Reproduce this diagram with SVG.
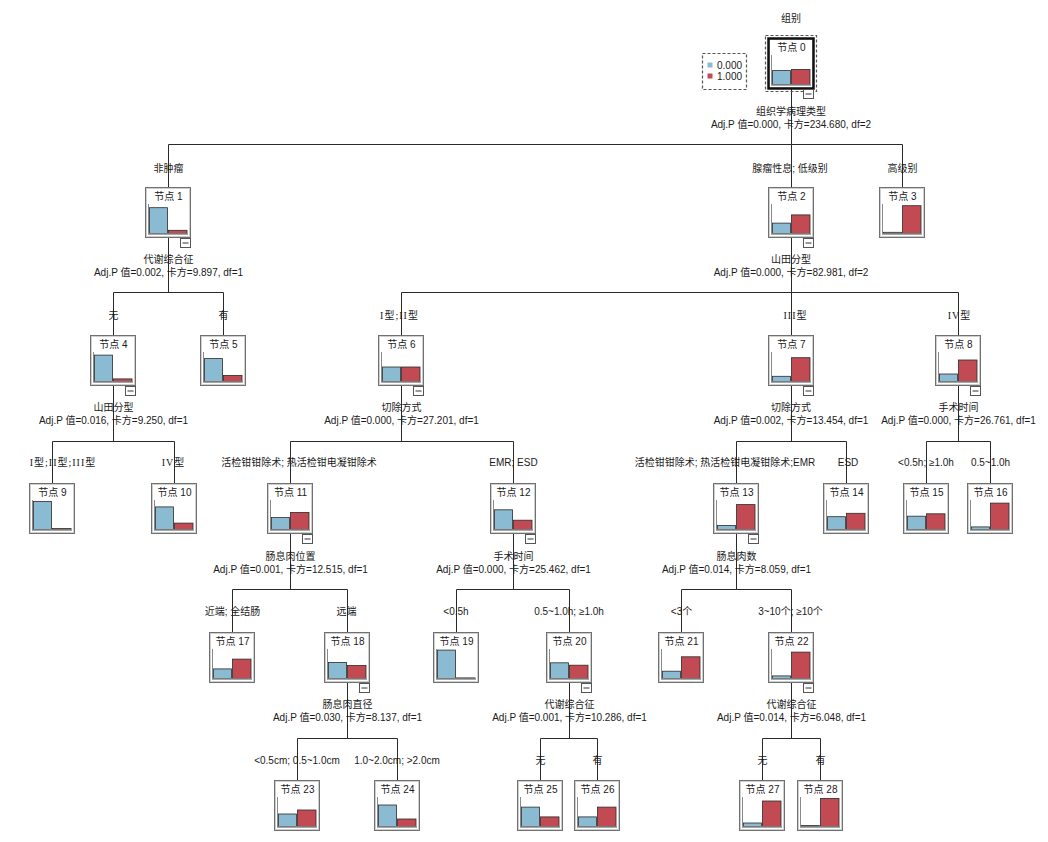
<svg xmlns="http://www.w3.org/2000/svg" width="1048" height="842" viewBox="0 0 1048 842">
<style>
.t{font-family:"Liberation Sans","Noto Sans CJK SC",sans-serif;font-size:10px;fill:#1a1a1a;text-anchor:middle}
.r{font-family:"Liberation Serif","Noto Sans CJK SC",serif;letter-spacing:1px}
.box{fill:#fff;stroke:#707070;stroke-width:1}
.in{fill:none;stroke:#cfcfcf;stroke-width:1}
.ax{stroke:#8a8a8a;stroke-width:1}
.bl{stroke:#8a8a8a;stroke-width:1.5}
.b{fill:#8BBAD3;stroke:#2b2b2b;stroke-width:0.8}
.rd{fill:#C24B53;stroke:#2b2b2b;stroke-width:0.8}
.col{fill:#fff;stroke:#555;stroke-width:1}
.cn{fill:none;stroke:#2a2a2a;stroke-width:1}
</style>
<defs>
<g id="frame">
<rect class="box" x="0.5" y="0.5" width="45" height="50"/>
<rect class="in" x="1.5" y="1.5" width="43" height="48"/>
<line class="ax" x1="3.5" y1="17" x2="3.5" y2="47"/>
</g>
<g id="base"><line class="bl" x1="3" y1="47" x2="43" y2="47"/></g>
<g id="col"><rect class="col" x="35.5" y="51.5" width="10" height="9"/><line stroke="#333" x1="37.5" y1="56" x2="43.5" y2="56"/></g>
</defs>
<rect width="1048" height="842" fill="#fff"/>

<text class="t" x="791" y="21.5">组别</text>

<g id="legend">
<rect x="702.5" y="53.5" width="44" height="36" fill="#fff" stroke="#555" stroke-width="1.2" stroke-dasharray="3,2"/>
<rect x="707.5" y="62.5" width="5" height="5" fill="#8BBAD3"/>
<text class="t" x="717" y="69" style="text-anchor:start">0.000</text>
<rect x="707.5" y="73.5" width="5" height="5" fill="#C24B53"/>
<text class="t" x="717" y="80" style="text-anchor:start">1.000</text>
</g>

<g id="connectors" class="cn">
<path d="M791.5 89V144.5M168.5 144.5H902.5M168.5 144.5V187M791.5 144.5V187M902.5 144.5V187"/>
<path d="M168.5 238V292.5M113.5 292.5H223.5M113.5 292.5V335M223.5 292.5V335"/>
<path d="M791.5 238V292.5M401.5 292.5H958.5M401.5 292.5V335M791.5 292.5V335M958.5 292.5V335"/>
<path d="M113.5 386V441.5M52.5 441.5H174.5M52.5 441.5V483M174.5 441.5V483"/>
<path d="M401.5 386V441.5M290.5 441.5H513.5M290.5 441.5V483M513.5 441.5V483"/>
<path d="M791.5 386V441.5M736.5 441.5H846.5M736.5 441.5V483M846.5 441.5V483"/>
<path d="M958.5 386V441.5M926.5 441.5H990.5M926.5 441.5V483M990.5 441.5V483"/>
<path d="M290.5 534V589.5M232.5 589.5H347.5M232.5 589.5V632M347.5 589.5V632"/>
<path d="M513.5 534V589.5M456.5 589.5H569.5M456.5 589.5V632M569.5 589.5V632"/>
<path d="M736.5 534V589.5M681.5 589.5H791.5M681.5 589.5V632M791.5 589.5V632"/>
<path d="M347.5 683V738.5M297.5 738.5H397.5M297.5 738.5V780M397.5 738.5V780"/>
<path d="M569.5 683V738.5M540.5 738.5H597.5M540.5 738.5V780M597.5 738.5V780"/>
<path d="M791.5 683V738.5M762.5 738.5H820.5M762.5 738.5V780M820.5 738.5V780"/>
</g>

<g id="labels">
<text class="t" x="791" y="114.5">组织学病理类型</text>
<text class="t" x="791" y="127.5">Adj.P 值=0.000, 卡方=234.680, df=2</text>
<text class="t" x="168.5" y="171.5">非肿瘤</text>
<text class="t" x="790" y="171.5">腺瘤性息; 低级别</text>
<text class="t" x="902.5" y="171.5">高级别</text>

<text class="t" x="168.5" y="262.5">代谢综合征</text>
<text class="t" x="168.5" y="275.5">Adj.P 值=0.002, 卡方=9.897, df=1</text>
<text class="t" x="791" y="262.5">山田分型</text>
<text class="t" x="791" y="275.5">Adj.P 值=0.000, 卡方=82.981, df=2</text>
<text class="t" x="113.5" y="318.5">无</text>
<text class="t" x="223.5" y="318.5">有</text>
<text class="t r" x="399.5" y="318.5">I型;II型</text>
<text class="t r" x="795.5" y="318.5">III型</text>
<text class="t r" x="959.5" y="318.5">IV型</text>

<text class="t" x="113.5" y="410.5">山田分型</text>
<text class="t" x="113.5" y="424">Adj.P 值=0.016, 卡方=9.250, df=1</text>
<text class="t" x="401.5" y="410.5">切除方式</text>
<text class="t" x="401.5" y="424">Adj.P 值=0.000, 卡方=27.201, df=1</text>
<text class="t" x="791" y="410.5">切除方式</text>
<text class="t" x="791" y="424">Adj.P 值=0.002, 卡方=13.454, df=1</text>
<text class="t" x="958.5" y="410.5">手术时间</text>
<text class="t" x="958.5" y="424">Adj.P 值=0.000, 卡方=26.761, df=1</text>
<text class="t r" x="63" y="466">I型;II型;III型</text>
<text class="t r" x="173.5" y="466">IV型</text>
<text class="t" x="299" y="466">活检钳钳除术; 热活检钳电凝钳除术</text>
<text class="t" x="513.5" y="466">EMR; ESD</text>
<text class="t" x="725" y="466">活检钳钳除术; 热活检钳电凝钳除术;EMR</text>
<text class="t" x="848" y="466">ESD</text>
<text class="t" x="926" y="466">&lt;0.5h; ≥1.0h</text>
<text class="t" x="990.5" y="466">0.5~1.0h</text>

<text class="t" x="290.5" y="559.5">肠息肉位置</text>
<text class="t" x="290.5" y="572.5">Adj.P 值=0.001, 卡方=12.515, df=1</text>
<text class="t" x="513.5" y="559.5">手术时间</text>
<text class="t" x="513.5" y="572.5">Adj.P 值=0.000, 卡方=25.462, df=1</text>
<text class="t" x="736.5" y="559.5">肠息肉数</text>
<text class="t" x="736.5" y="572.5">Adj.P 值=0.014, 卡方=8.059, df=1</text>
<text class="t" x="232.5" y="615">近端; 全结肠</text>
<text class="t" x="346.5" y="615">远端</text>
<text class="t" x="456" y="615">&lt;0.5h</text>
<text class="t" x="569" y="615">0.5~1.0h; ≥1.0h</text>
<text class="t" x="681.5" y="615">&lt;3个</text>
<text class="t" x="790.5" y="615">3~10个; ≥10个</text>

<text class="t" x="347.5" y="707.5">肠息肉直径</text>
<text class="t" x="347.5" y="720.5">Adj.P 值=0.030, 卡方=8.137, df=1</text>
<text class="t" x="569.5" y="707.5">代谢综合征</text>
<text class="t" x="569.5" y="720.5">Adj.P 值=0.001, 卡方=10.286, df=1</text>
<text class="t" x="791.5" y="707.5">代谢综合征</text>
<text class="t" x="791.5" y="720.5">Adj.P 值=0.014, 卡方=6.048, df=1</text>
<text class="t" x="297" y="763.5">&lt;0.5cm; 0.5~1.0cm</text>
<text class="t" x="397" y="763.5">1.0~2.0cm; &gt;2.0cm</text>
<text class="t" x="540.5" y="763.5">无</text>
<text class="t" x="597.5" y="763.5">有</text>
<text class="t" x="762.5" y="763.5">无</text>
<text class="t" x="820.5" y="763.5">有</text>
</g>

<g id="node0" transform="translate(768,38)">
<rect x="-2.5" y="-2.5" width="51" height="56" fill="none" stroke="#555" stroke-width="1.2" stroke-dasharray="3,2"/>
<use href="#frame"/>
<rect x="0.5" y="0.5" width="45" height="50" fill="none" stroke="#111" stroke-width="2.5"/>
<text class="t" x="23.5" y="12.5">节点 0</text>
<rect class="b" x="4.5" y="32.6" width="18" height="13.9"/><rect class="rd" x="23.5" y="31.4" width="18.5" height="15.1"/>
<use href="#base"/><use href="#col"/>
</g>
<g id="node1" transform="translate(145,187)"><use href="#frame"/><text class="t" x="23.5" y="12.5">节点 1</text>
<rect class="b" x="4.5" y="20.7" width="18" height="25.8"/><rect class="rd" x="23.5" y="43.3" width="18.5" height="3.2"/><use href="#base"/><use href="#col"/></g>
<g id="node2" transform="translate(768,187)"><use href="#frame"/><text class="t" x="23.5" y="12.5">节点 2</text>
<rect class="b" x="4.5" y="36.1" width="18" height="10.4"/><rect class="rd" x="23.5" y="27.9" width="18.5" height="18.6"/><use href="#base"/><use href="#col"/></g>
<g id="node3" transform="translate(879,187)"><use href="#frame"/><text class="t" x="23.5" y="12.5">节点 3</text>
<rect class="b" x="4.5" y="45.3" width="18" height="1.2"/><rect class="rd" x="23.5" y="18.7" width="18.5" height="27.8"/><use href="#base"/></g>
<g id="node4" transform="translate(90,335)"><use href="#frame"/><text class="t" x="23.5" y="12.5">节点 4</text>
<rect class="b" x="4.5" y="20.1" width="18" height="26.4"/><rect class="rd" x="23.5" y="43.9" width="18.5" height="2.6"/><use href="#base"/><use href="#col"/></g>
<g id="node5" transform="translate(200,335)"><use href="#frame"/><text class="t" x="23.5" y="12.5">节点 5</text>
<rect class="b" x="4.5" y="23.6" width="18" height="22.9"/><rect class="rd" x="23.5" y="40.4" width="18.5" height="6.1"/><use href="#base"/></g>
<g id="node6" transform="translate(378,335)"><use href="#frame"/><text class="t" x="23.5" y="12.5">节点 6</text>
<rect class="b" x="4.5" y="32" width="18" height="14.5"/><rect class="rd" x="23.5" y="32" width="18.5" height="14.5"/><use href="#base"/><use href="#col"/></g>
<g id="node7" transform="translate(768,335)"><use href="#frame"/><text class="t" x="23.5" y="12.5">节点 7</text>
<rect class="b" x="4.5" y="41.3" width="18" height="5.2"/><rect class="rd" x="23.5" y="22.7" width="18.5" height="23.8"/><use href="#base"/><use href="#col"/></g>
<g id="node8" transform="translate(935,335)"><use href="#frame"/><text class="t" x="23.5" y="12.5">节点 8</text>
<rect class="b" x="4.5" y="39" width="18" height="7.5"/><rect class="rd" x="23.5" y="25" width="18.5" height="21.5"/><use href="#base"/><use href="#col"/></g>
<g id="node9" transform="translate(29,483)"><use href="#frame"/><text class="t" x="23.5" y="12.5">节点 9</text>
<rect class="b" x="4.5" y="18.4" width="18" height="28.1"/><rect class="rd" x="23.5" y="45.6" width="18.5" height="0.9"/><use href="#base"/></g>
<g id="node10" transform="translate(151,483)"><use href="#frame"/><text class="t" x="23.5" y="12.5">节点 10</text>
<rect class="b" x="4.5" y="23.9" width="18" height="22.6"/><rect class="rd" x="23.5" y="40.1" width="18.5" height="6.4"/><use href="#base"/></g>
<g id="node11" transform="translate(267,483)"><use href="#frame"/><text class="t" x="23.5" y="12.5">节点 11</text>
<rect class="b" x="4.5" y="34.6" width="18" height="11.9"/><rect class="rd" x="23.5" y="29.4" width="18.5" height="17.1"/><use href="#base"/><use href="#col"/></g>
<g id="node12" transform="translate(490,483)"><use href="#frame"/><text class="t" x="23.5" y="12.5">节点 12</text>
<rect class="b" x="4.5" y="26.8" width="18" height="19.7"/><rect class="rd" x="23.5" y="37.2" width="18.5" height="9.3"/><use href="#base"/><use href="#col"/></g>
<g id="node13" transform="translate(713,483)"><use href="#frame"/><text class="t" x="23.5" y="12.5">节点 13</text>
<rect class="b" x="4.5" y="42.4" width="18" height="4.1"/><rect class="rd" x="23.5" y="21.6" width="18.5" height="24.9"/><use href="#base"/><use href="#col"/></g>
<g id="node14" transform="translate(823,483)"><use href="#frame"/><text class="t" x="23.5" y="12.5">节点 14</text>
<rect class="b" x="4.5" y="33.7" width="18" height="12.8"/><rect class="rd" x="23.5" y="30.3" width="18.5" height="16.2"/><use href="#base"/></g>
<g id="node15" transform="translate(903,483)"><use href="#frame"/><text class="t" x="23.5" y="12.5">节点 15</text>
<rect class="b" x="4.5" y="33.2" width="18" height="13.3"/><rect class="rd" x="23.5" y="30.8" width="18.5" height="15.7"/><use href="#base"/></g>
<g id="node16" transform="translate(967,483)"><use href="#frame"/><text class="t" x="23.5" y="12.5">节点 16</text>
<rect class="b" x="4.5" y="43.9" width="18" height="2.6"/><rect class="rd" x="23.5" y="20.1" width="18.5" height="26.4"/><use href="#base"/></g>
<g id="node17" transform="translate(209,632)"><use href="#frame"/><text class="t" x="23.5" y="12.5">节点 17</text>
<rect class="b" x="4.5" y="36.9" width="18" height="9.6"/><rect class="rd" x="23.5" y="27.1" width="18.5" height="19.4"/><use href="#base"/></g>
<g id="node18" transform="translate(324,632)"><use href="#frame"/><text class="t" x="23.5" y="12.5">节点 18</text>
<rect class="b" x="4.5" y="30.5" width="18" height="16"/><rect class="rd" x="23.5" y="33.5" width="18.5" height="13"/><use href="#base"/><use href="#col"/></g>
<g id="node19" transform="translate(433,632)"><use href="#frame"/><text class="t" x="23.5" y="12.5">节点 19</text>
<rect class="b" x="4.5" y="18.1" width="18" height="28.4"/><rect class="rd" x="23.5" y="45.9" width="18.5" height="0.6"/><use href="#base"/></g>
<g id="node20" transform="translate(546,632)"><use href="#frame"/><text class="t" x="23.5" y="12.5">节点 20</text>
<rect class="b" x="4.5" y="30.8" width="18" height="15.7"/><rect class="rd" x="23.5" y="33.2" width="18.5" height="13.3"/><use href="#base"/><use href="#col"/></g>
<g id="node21" transform="translate(658,632)"><use href="#frame"/><text class="t" x="23.5" y="12.5">节点 21</text>
<rect class="b" x="4.5" y="39.2" width="18" height="7.3"/><rect class="rd" x="23.5" y="24.8" width="18.5" height="21.7"/><use href="#base"/></g>
<g id="node22" transform="translate(768,632)"><use href="#frame"/><text class="t" x="23.5" y="12.5">节点 22</text>
<rect class="b" x="4.5" y="43.9" width="18" height="2.6"/><rect class="rd" x="23.5" y="20.1" width="18.5" height="26.4"/><use href="#base"/><use href="#col"/></g>
<g id="node23" transform="translate(274,780)"><use href="#frame"/><text class="t" x="23.5" y="12.5">节点 23</text>
<rect class="b" x="4.5" y="34" width="18" height="12.5"/><rect class="rd" x="23.5" y="30" width="18.5" height="16.5"/><use href="#base"/></g>
<g id="node24" transform="translate(374,780)"><use href="#frame"/><text class="t" x="23.5" y="12.5">节点 24</text>
<rect class="b" x="4.5" y="25" width="18" height="21.5"/><rect class="rd" x="23.5" y="39" width="18.5" height="7.5"/><use href="#base"/></g>
<g id="node25" transform="translate(517,780)"><use href="#frame"/><text class="t" x="23.5" y="12.5">节点 25</text>
<rect class="b" x="4.5" y="27.1" width="18" height="19.4"/><rect class="rd" x="23.5" y="36.9" width="18.5" height="9.6"/><use href="#base"/></g>
<g id="node26" transform="translate(574,780)"><use href="#frame"/><text class="t" x="23.5" y="12.5">节点 26</text>
<rect class="b" x="4.5" y="36.9" width="18" height="9.6"/><rect class="rd" x="23.5" y="27.1" width="18.5" height="19.4"/><use href="#base"/></g>
<g id="node27" transform="translate(739,780)"><use href="#frame"/><text class="t" x="23.5" y="12.5">节点 27</text>
<rect class="b" x="4.5" y="43" width="18" height="3.5"/><rect class="rd" x="23.5" y="21" width="18.5" height="25.5"/><use href="#base"/></g>
<g id="node28" transform="translate(797,780)"><use href="#frame"/><text class="t" x="23.5" y="12.5">节点 28</text>
<rect class="b" x="4.5" y="45.6" width="18" height="0.9"/><rect class="rd" x="23.5" y="18.4" width="18.5" height="28.1"/><use href="#base"/></g>
</svg>
